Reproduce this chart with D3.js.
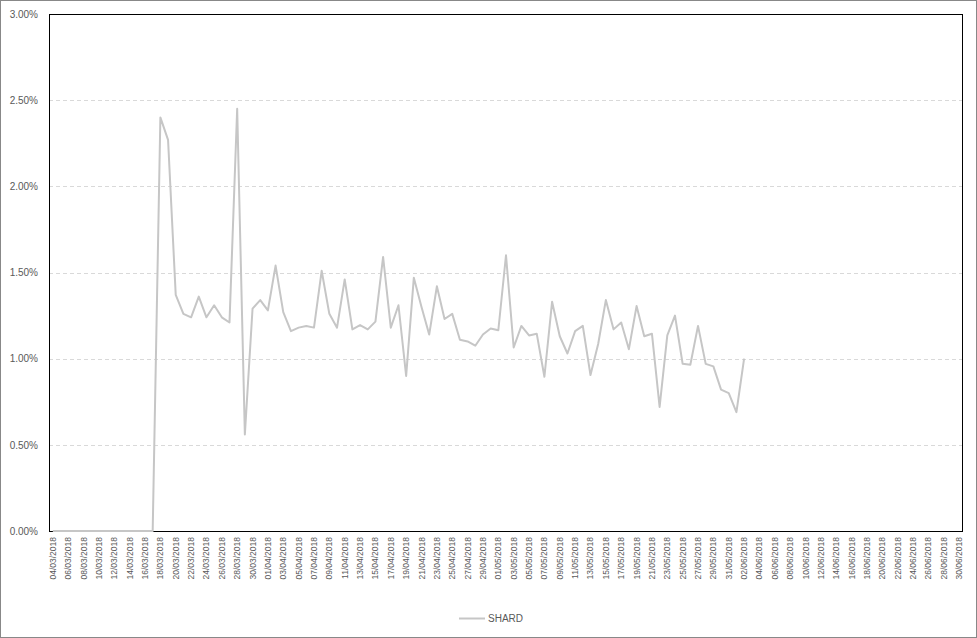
<!DOCTYPE html>
<html>
<head>
<meta charset="utf-8">
<script src="https://cdn.jsdelivr.net/npm/d3@7"></script>
<style>
  html, body { margin: 0; padding: 0; background: #fff; }
  svg { display: block; }
</style>
</head>
<body>
<svg id="chart" width="977" height="638"></svg>
<script>
// ---- data ----
const seriesName = "SHARD";
const startDate = new Date(2018, 2, 4);
const endDate = new Date(2018, 6, 1);
const fmtDate = d3.timeFormat("%d/%m/%Y");
const categories = d3.timeDays(startDate, endDate).map(fmtDate); // 04/03/2018 .. 30/06/2018

// SHARD values in percent, 04/03/2018 .. 02/06/2018 (later dates empty)
const shardValues = [
  0, 0, 0, 0, 0, 0, 0, 0, 0, 0, 0, 0, 0, 0,
  2.40, 2.27, 1.37, 1.26, 1.24, 1.36, 1.24, 1.31, 1.24, 1.21,
  2.45, 0.56, 1.29, 1.34, 1.28, 1.54, 1.27, 1.16, 1.18, 1.19,
  1.18, 1.51, 1.26, 1.18, 1.46, 1.17, 1.195, 1.17, 1.215, 1.59,
  1.18, 1.31, 0.90, 1.47, 1.30, 1.14, 1.42, 1.23, 1.26, 1.11,
  1.10, 1.075, 1.14, 1.175, 1.165, 1.60, 1.065, 1.19, 1.135, 1.145,
  0.895, 1.33, 1.13, 1.03, 1.16, 1.19, 0.905, 1.085, 1.34, 1.17,
  1.21, 1.055, 1.305, 1.13, 1.145, 0.72, 1.135, 1.25, 0.97, 0.965,
  1.19, 0.97, 0.955, 0.82, 0.80, 0.69, 1.00
];
const yTicks = [0, 0.5, 1.0, 1.5, 2.0, 2.5, 3.0];

const values = categories.map((c, i) => (i < shardValues.length ? shardValues[i] : null));

// ---- layout ----
const W = 977, H = 638;
const plot = { left: 49, right: 963, top: 14, bottom: 531 };
const svg = d3.select("#chart");

svg.append("rect")
  .attr("x", 0.5).attr("y", 0.5).attr("width", W - 1).attr("height", H - 1)
  .attr("fill", "#fff").attr("stroke", "#888").attr("stroke-width", 1);

const x = d3.scaleBand().domain(categories).range([plot.left, plot.right]).padding(0);
const y = d3.scaleLinear().domain([0, 3]).range([plot.bottom, plot.top]);
const xc = c => x(c) + x.bandwidth() / 2;

// gridlines
svg.append("g").selectAll("line")
  .data(yTicks.filter(t => t > 0 && t < 3))
  .join("line")
  .attr("x1", plot.left).attr("x2", plot.right)
  .attr("y1", d => Math.round(y(d)) + 0.5).attr("y2", d => Math.round(y(d)) + 0.5)
  .attr("stroke", "#d9d9d9").attr("stroke-width", 1).attr("stroke-dasharray", "4,3");

// plot border
svg.append("rect")
  .attr("x", plot.left + 0.5).attr("y", plot.top + 0.5)
  .attr("width", plot.right - plot.left - 1).attr("height", plot.bottom - plot.top)
  .attr("fill", "none").attr("stroke", "#000").attr("stroke-width", 1);

// y axis labels
const yAxis = d3.axisLeft(y).tickValues(yTicks).tickSize(0).tickPadding(11)
  .tickFormat(d => d.toFixed(2) + "%");
const gy = svg.append("g").attr("transform", `translate(${plot.left},0)`).call(yAxis);
gy.select(".domain").remove();
gy.selectAll("text").attr("fill", "#595959")
  .style("font-family", "'Liberation Sans', Arial, sans-serif").style("font-size", "10px");

// x axis labels
const xAxis = d3.axisBottom(x)
  .tickValues(categories.filter((c, i) => i % 2 === 0))
  .tickSize(0).tickPadding(0);
const gx = svg.append("g").attr("transform", `translate(0,${plot.bottom})`).call(xAxis);
gx.select(".domain").remove();
gx.selectAll("text")
  .attr("fill", "#595959")
  .style("font-family", "'Liberation Sans', Arial, sans-serif").style("font-size", "8.5px")
  .attr("text-anchor", "end")
  .attr("dy", null).attr("y", 0)
  .attr("transform", "translate(3,6) rotate(-90)");

// line
const line = d3.line()
  .defined(d => d.v != null)
  .x(d => xc(d.c))
  .y(d => y(d.v));
svg.append("path")
  .datum(categories.map((c, i) => ({ c, v: values[i] })))
  .attr("d", line)
  .attr("fill", "none").attr("stroke", "#c6c6c6").attr("stroke-width", 2)
  .attr("stroke-linejoin", "round");

// legend
const lg = svg.append("g").attr("transform", "translate(459,618.5)");
lg.append("line").attr("x1", 0).attr("x2", 26).attr("y1", 0).attr("y2", 0)
  .attr("stroke", "#c6c6c6").attr("stroke-width", 2);
lg.append("text").attr("x", 29).attr("y", 3.5).text(seriesName)
  .attr("fill", "#595959")
  .style("font-family", "'Liberation Sans', Arial, sans-serif").style("font-size", "10px");
</script>
</body>
</html>
